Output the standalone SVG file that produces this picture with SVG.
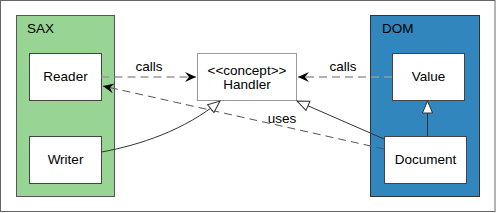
<svg xmlns="http://www.w3.org/2000/svg" width="496" height="213" viewBox="0 0 496 213">
<style>
text{font-family:"Liberation Sans",Arial,sans-serif;font-size:13.5px;fill:#000}
.box{fill:#fff;stroke:#444;stroke-width:1}
.mid{text-anchor:middle}
.dash1{fill:none;stroke:#999;stroke-width:1.3;stroke-dasharray:8,5}
.dash2{fill:none;stroke:#555;stroke-width:1;stroke-dasharray:8,5}
.solid{fill:none;stroke:#333;stroke-width:1}
</style>
<defs>
<marker id="vee" viewBox="0 0 12 10" refX="11" refY="5" markerWidth="12" markerHeight="10" markerUnits="userSpaceOnUse" orient="auto">
<path d="M0,0 L11,5 L0,10 L4,5 Z" fill="#000"/>
</marker>
<marker id="tri" viewBox="0 0 14 12" refX="13" refY="6" markerWidth="14" markerHeight="12" markerUnits="userSpaceOnUse" orient="auto">
<path d="M1,1 L13,6 L1,11 Z" fill="#fff" stroke="#333" stroke-width="1"/>
</marker>
</defs>
<rect x="0.5" y="0.5" width="494.5" height="211" fill="#fff" stroke="#666"/>
<g id="SAX">
<rect x="16.5" y="15.5" width="98" height="181" fill="#98d594" stroke="#555"/>
<text x="27" y="33">SAX</text>
</g>
<g id="DOM">
<rect x="370.5" y="15.5" width="109" height="181" fill="#3286be" stroke="#333"/>
<text x="382" y="33">DOM</text>
</g>
<g id="Reader">
<rect class="box" x="29.5" y="53.5" width="72" height="47"/>
<text class="mid" x="65.5" y="81">Reader</text>
</g>
<g id="Writer">
<rect class="box" x="29.5" y="136.5" width="72" height="47"/>
<text class="mid" x="65.5" y="164">Writer</text>
</g>
<g id="Handler">
<rect x="197.5" y="53.5" width="99" height="47" fill="#fff" stroke="#999"/>
<text class="mid" x="247" y="75">&lt;&lt;concept&gt;&gt;</text>
<text class="mid" x="247" y="89">Handler</text>
</g>
<g id="Value">
<rect class="box" x="392.5" y="53.5" width="72" height="47"/>
<text class="mid" x="428.5" y="81">Value</text>
</g>
<g id="Document">
<rect class="box" x="384.5" y="136.5" width="82" height="47"/>
<text class="mid" x="425.5" y="164">Document</text>
</g>
<g id="connectors">
<path class="dash1" d="M101.5,77 L196,77" marker-end="url(#vee)"/>
<text class="mid" x="149" y="71">calls</text>
<path class="dash1" d="M392,77 L298,77" marker-end="url(#vee)"/>
<text class="mid" x="343" y="71">calls</text>
<path class="dash2" d="M384,149 L103,86" marker-end="url(#vee)"/>
<text class="mid" x="282" y="123">uses</text>
<path class="solid" d="M101.5,152 C140,145 185,130 220,101" marker-end="url(#tri)"/>
<path class="solid" d="M384,139 L297,101" marker-end="url(#tri)"/>
<path class="solid" d="M427.5,136 L427.5,101" marker-end="url(#tri)"/>
</g>
</svg>
